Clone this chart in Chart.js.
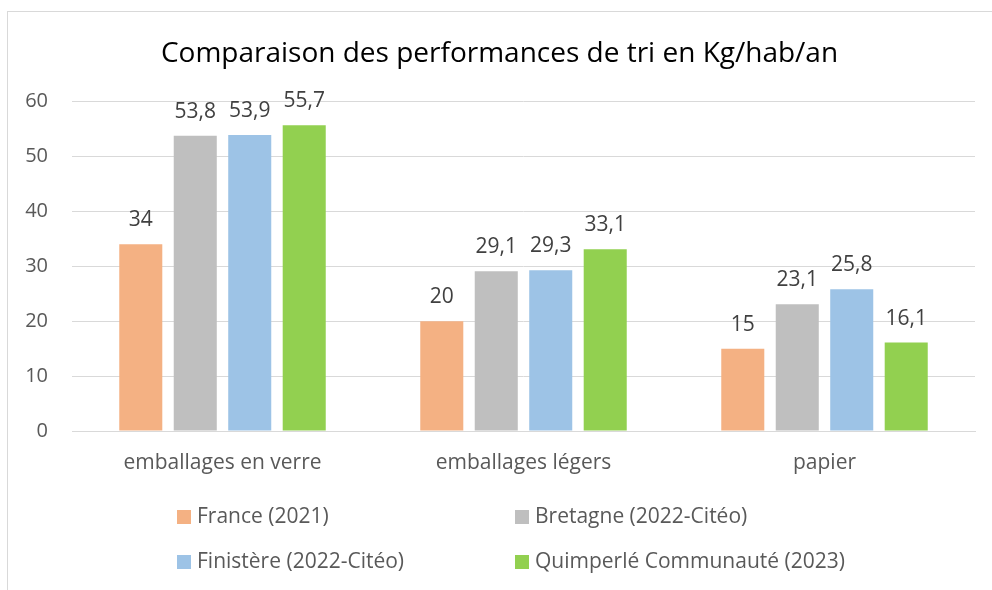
<!DOCTYPE html>
<html lang="fr">
<head>
<meta charset="UTF-8">
<title>Comparaison des performances de tri</title>
<script src="https://cdn.jsdelivr.net/npm/chart.js"></script>
<style>
  body { margin: 0; background: #fff; }
  #frame {
    position: absolute; left: 7px; top: 11px;
    width: 985px; height: 579px;
    border-left: 1px solid #d9d9d9; border-top: 1px solid #d9d9d9;
    box-sizing: border-box;
  }
</style>
</head>
<body>
<div id="frame"><canvas id="triChart"></canvas></div>
<script>
  const categories = ['emballages en verre', 'emballages légers', 'papier'];
  const seriesNames = ['France (2021)', 'Bretagne (2022-Citéo)', 'Finistère (2022-Citéo)', 'Quimperlé Communauté (2023)'];
  const france = [34, 20, 15];
  const bretagne = [53.8, 29.1, 23.1];
  const finistere = [53.9, 29.3, 25.8];
  const quimperle = [55.7, 33.1, 16.1];
  const colors = ['#F4B183', '#BFBFBF', '#9DC3E6', '#92D050'];

  const fontFamily = '"Open Sans", sans-serif';
  const textColor = '#595959';

  // value labels above each bar, French decimal comma
  const barLabels = {
    id: 'barLabels',
    afterDatasetsDraw(chart) {
      const ctx = chart.ctx;
      ctx.save();
      ctx.font = '21px ' + fontFamily;
      ctx.fillStyle = '#404040';
      ctx.textAlign = 'center';
      ctx.textBaseline = 'alphabetic';
      chart.data.datasets.forEach((ds, i) => {
        chart.getDatasetMeta(i).data.forEach((bar, j) => {
          const txt = String(ds.data[j]).replace('.', ',');
          ctx.fillText(txt, bar.x, bar.y - 18);
        });
      });
      ctx.restore();
    }
  };

  // two-column legend like the office chart
  const gridLegend = {
    id: 'gridLegend',
    afterDraw(chart) {
      const ctx = chart.ctx;
      const left = chart.width / 2 - 323;
      const colW = 338;
      const rows = [505, 550];
      ctx.save();
      ctx.font = '21px ' + fontFamily;
      ctx.textBaseline = 'middle';
      ctx.textAlign = 'left';
      chart.data.datasets.forEach((ds, i) => {
        const x = left + (i % 2) * colW;
        const y = rows[Math.floor(i / 2)];
        ctx.fillStyle = ds.backgroundColor;
        ctx.fillRect(x, y - 7, 14, 14);
        ctx.fillStyle = textColor;
        ctx.fillText(ds.label, x + 20, y);
      });
      ctx.restore();
    }
  };

  const values = [france, bretagne, finistere, quimperle];

  new Chart(document.getElementById('triChart'), {
    type: 'bar',
    data: {
      labels: categories,
      datasets: values.map((v, i) => ({
        label: seriesNames[i],
        data: v,
        backgroundColor: colors[i],
        categoryPercentage: 0.724,
        barPercentage: 0.79
      }))
    },
    options: {
      responsive: true,
      maintainAspectRatio: false,
      animation: false,
      layout: { padding: { left: 16, right: 17, top: 15, bottom: 114 } },
      plugins: {
        legend: { display: false },
        tooltip: { enabled: false },
        title: {
          display: true,
          text: 'Comparaison des performances de tri en Kg/hab/an',
          color: '#000',
          font: { family: fontFamily, size: 28, weight: 'normal' },
          padding: { top: 10, bottom: 31 }
        }
      },
      scales: {
        x: {
          grid: { display: false, drawTicks: false },
          border: { color: '#d9d9d9' },
          ticks: { color: textColor, font: { family: fontFamily, size: 21 }, padding: 19 },
          afterFit: s => { s.height = 45; }
        },
        y: {
          min: 0, max: 60,
          grid: { color: '#d9d9d9', drawTicks: false },
          border: { display: false },
          ticks: { stepSize: 10, color: textColor, font: { family: fontFamily, size: 20 }, padding: 24 },
          afterFit: s => { s.width = 48; }
        }
      }
    },
    plugins: [barLabels, gridLegend]
  });
</script>
</body>
</html>
